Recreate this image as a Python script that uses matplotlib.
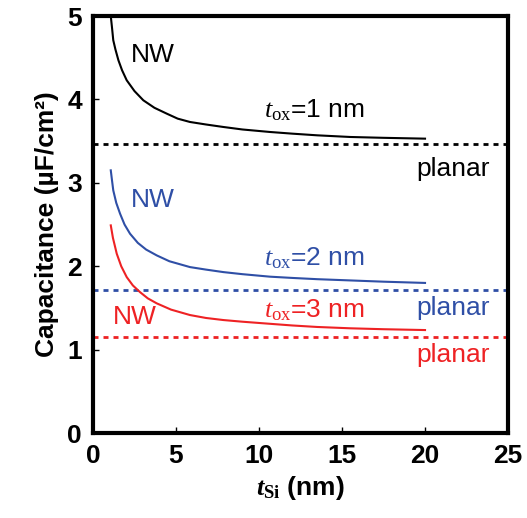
import matplotlib
matplotlib.use('Agg')
import matplotlib.pyplot as plt

plt.rcParams['font.family'] = ['Liberation Sans', 'DejaVu Sans']
plt.rcParams['mathtext.fontset'] = 'custom'
plt.rcParams['mathtext.rm'] = 'Liberation Serif'
plt.rcParams['mathtext.it'] = 'Liberation Serif:italic'
plt.rcParams['mathtext.bf'] = 'Liberation Serif:bold'
plt.rcParams['mathtext.bfit'] = 'Liberation Serif:italic:bold'

# silicon thickness (nm) and NW capacitance
t_si_1 = [1.07, 1.15, 1.22, 1.35, 1.53, 1.75, 2.03, 2.5, 3.03, 3.7, 4.44, 5.1, 5.84,
          6.8, 7.85, 9.0, 10.66, 12.0, 13.5, 15.5, 17.5, 20.0]
c_nw_1 = [5.00, 4.85, 4.71, 4.60, 4.47, 4.35, 4.23, 4.10, 3.99, 3.90, 3.83, 3.77, 3.73,
          3.70, 3.67, 3.64, 3.61, 3.59, 3.57, 3.55, 3.54, 3.53]

t_si_2 = [1.07, 1.15, 1.22, 1.4, 1.63, 1.9, 2.23, 2.7, 3.2, 3.84, 4.6, 5.84, 6.8,
          7.85, 9.0, 10.66, 12.0, 13.5, 15.5, 17.5, 20.0]
c_nw_2 = [3.15, 3.02, 2.91, 2.76, 2.63, 2.50, 2.39, 2.28, 2.20, 2.13, 2.06, 1.99, 1.96,
          1.93, 1.905, 1.875, 1.86, 1.845, 1.83, 1.815, 1.80]

t_si_3 = [1.07, 1.2, 1.43, 1.7, 2.03, 2.4, 2.83, 3.3, 3.84, 4.7, 5.84, 6.8, 7.85,
          9.0, 10.66, 12.0, 13.5, 15.5, 17.5, 20.0]
c_nw_3 = [2.49, 2.34, 2.15, 2.00, 1.87, 1.77, 1.69, 1.615, 1.555, 1.48, 1.415, 1.38, 1.355,
          1.335, 1.31, 1.29, 1.272, 1.256, 1.245, 1.235]

c_planar = [3.46, 1.715, 1.155]
t_ox_labels = ['1', '2', '3']
colors = ['black', '#2f4fa6', '#ee2224']

fig = plt.figure(figsize=(5.27, 5.18), dpi=100)
ax = fig.add_axes([0.1765, 0.164, 0.7875, 0.805])

curves = [(t_si_1, c_nw_1), (t_si_2, c_nw_2), (t_si_3, c_nw_3)]
for (t, c), col, cp in zip(curves, colors, c_planar):
    ax.plot(t, c, color=col, lw=1.5, solid_joinstyle='round')
    ax.plot([0, 25], [cp, cp], color=col, lw=2, linestyle=(0, (1.8, 1.8)))

# annotations
nw_pos = [(2.3, 4.53), (2.3, 2.79), (1.2, 1.39)]
tox_pos = [(10.3, 3.78), (10.3, 2.01), (10.3, 1.39)]
planar_pos = [(23.9, 3.08), (23.9, 1.415), (23.9, 0.855)]
for i, col in enumerate(colors):
    ax.text(*nw_pos[i], 'NW', color=col, fontsize=19, va='center', ha='left')
    ax.text(*tox_pos[i], r'$t_{\mathrm{ox}}$=' + t_ox_labels[i] + ' nm', color=col,
            fontsize=19, va='baseline', ha='left')
    ax.text(*planar_pos[i], 'planar', color=col, fontsize=19, va='baseline', ha='right')

ax.set_xlim(0, 25)
ax.set_ylim(0, 5)
ax.set_xticks([0, 5, 10, 15, 20, 25])
ax.set_yticks([0, 1, 2, 3, 4, 5])
for s in ax.spines.values():
    s.set_linewidth(3)
ax.tick_params(direction='in', length=4, width=1, labelsize=19, pad=8)
for lab in ax.get_xticklabels() + ax.get_yticklabels():
    lab.set_fontweight('bold')

ax.set_xlabel(r'$\mathbfit{t}_{\mathbf{Si}}$ (nm)', fontsize=19, fontweight='bold', labelpad=4)
ax.set_ylabel('Capacitance (µF/cm²)', fontsize=19, fontweight='bold', labelpad=6)

fig.savefig('out.png', dpi=100)
